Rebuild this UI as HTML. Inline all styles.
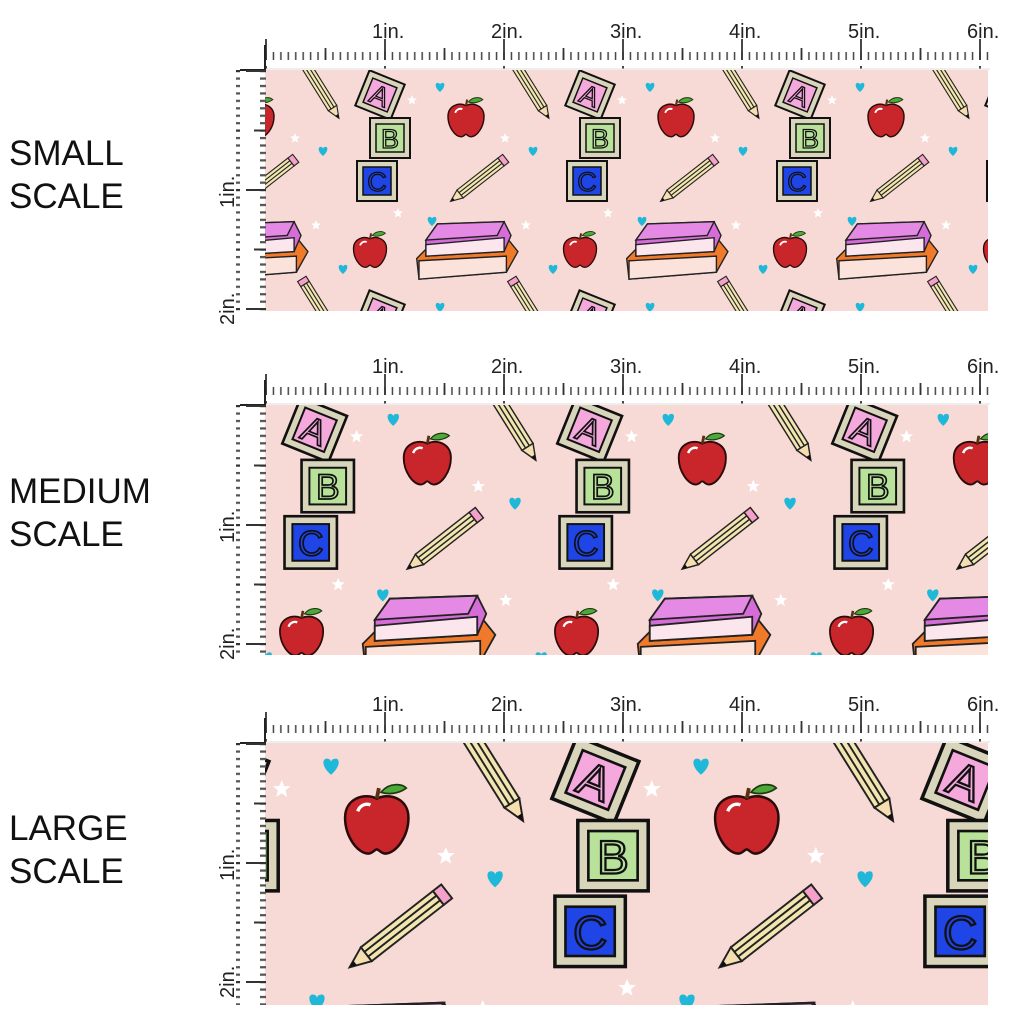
<!DOCTYPE html>
<html><head><meta charset="utf-8"><style>
html,body{margin:0;padding:0;background:#fff;width:1024px;height:1024px;overflow:hidden}
svg{display:block}
.lbl{font-family:"Liberation Sans",sans-serif;font-size:35px;fill:#111}
.rl{font-family:"Liberation Sans",sans-serif;font-size:20px;fill:#222}
.bl{font-family:"Liberation Sans",sans-serif;font-size:27px;fill:none;stroke:#111;stroke-width:1.3}
</style></head><body>
<svg width="1024" height="1024" viewBox="0 0 1024 1024" xmlns="http://www.w3.org/2000/svg">
<defs>
<pattern id="hsmall" x="265" y="0" width="7.4375" height="30" patternUnits="userSpaceOnUse">
<line x1="1" y1="30" x2="1" y2="22" stroke="#444" stroke-width="1.5"/></pattern>
<pattern id="hbig" x="265" y="0" width="119" height="30" patternUnits="userSpaceOnUse">
<g stroke="#333" stroke-width="1.8"><line x1="1" y1="30" x2="1" y2="6"/><line x1="60.5" y1="30" x2="60.5" y2="18"/></g></pattern>
<pattern id="vsmall" x="0" y="70" width="30" height="7.4375" patternUnits="userSpaceOnUse">
<line x1="30" y1="1" x2="20" y2="1" stroke="#555" stroke-width="2.5"/></pattern>
<pattern id="vbig" x="0" y="70" width="30" height="119" patternUnits="userSpaceOnUse">
<g stroke="#333" stroke-width="2"><line x1="30" y1="1" x2="6" y2="1"/><line x1="30" y1="60.5" x2="14" y2="60.5"/></g></pattern>
<g id="heart"><path d="M0 4 C-6 -1 -5 -6 -1.5 -5 C0 -4.5 0 -3.5 0 -3 C0 -3.5 0.5 -5 2 -5 C5 -6 6 -1 0 4Z" fill="#20b8d8"/></g>
<g id="star"><polygon points="0,-5 1.4,-1.6 5,-1.5 2.2,0.9 3.1,4.6 0,2.6 -3.1,4.6 -2.2,0.9 -5,-1.5 -1.4,-1.6" fill="#fff"/></g>
<g id="apple"><path d="M0 -12 C-6 -15 -15 -12 -15 -3 C-15 6 -9 14 -4 14 C-2 14 -1 12 0 12 C1 12 2 14 4 14 C9 14 15 6 15 -3 C15 -12 6 -15 0 -12Z" fill="#c8262b" stroke="#2a0a0a" stroke-width="1.2"/>
<path d="M0 -12 L1 -17" stroke="#5a3010" stroke-width="1.8"/><path d="M2 -15 C6 -20 12 -19 14 -17 C10 -14 5 -14 2 -15Z" fill="#4ea83a" stroke="#1a3a10" stroke-width="0.8"/>
<path d="M-9 -6 C-8 -9 -5 -10 -3 -9" stroke="#fff" stroke-width="1.6" fill="none"/></g>
<g id="pencil"><g stroke="#222" stroke-width="1.1">
<rect x="0" y="-5" width="52" height="10" fill="#f2e5b0"/><line x1="0" y1="-1.7" x2="52" y2="-1.7"/><line x1="0" y1="1.7" x2="52" y2="1.7"/>
<rect x="-6" y="-5" width="6" height="10" fill="#f5a0c8"/>
<polygon points="52,-5 64,0 52,5" fill="#f5deb0"/></g><polygon points="60,-1.7 64,0 60,1.7" fill="#111"/></g>
<g id="tile">
<g transform="translate(115,25) rotate(22)"><rect x="-19" y="-19" width="38" height="38" fill="#d9d5bb" stroke="#111" stroke-width="2"/><rect x="-13" y="-13" width="26" height="26" fill="#f4a8dc" stroke="#111" stroke-width="1.5"/><text class="bl" x="0" y="10" text-anchor="middle">A</text></g>
<g transform="translate(125,68)"><rect x="-20" y="-20" width="40" height="40" fill="#d9d5bb" stroke="#111" stroke-width="2"/><rect x="-14" y="-14" width="28" height="28" fill="#b8e29a" stroke="#111" stroke-width="1.5"/><text class="bl" x="0" y="10" text-anchor="middle">B</text></g>
<g transform="translate(112,111)"><rect x="-20" y="-20" width="40" height="40" fill="#d9d5bb" stroke="#111" stroke-width="2"/><rect x="-14" y="-14" width="28" height="28" fill="#1f45e6" stroke="#111" stroke-width="1.5"/><text class="bl" x="0" y="10" text-anchor="middle">C</text></g>
<use href="#apple" transform="translate(201,50) scale(1.2)"/>
<use href="#apple" transform="translate(105,182) scale(1.1)"/>
<use href="#pencil" transform="translate(40,-6) rotate(58)"/>
<use href="#pencil" transform="translate(236,92) rotate(142)"/>
<g stroke="#222" stroke-width="1.2" transform="translate(200,185) scale(1.15) translate(-200,-185)">
<polygon points="158,188 168,178 238,172 246,182 236,200 160,206" fill="#f07a2a"/>
<polygon points="160,190 236,186 236,200 160,206" fill="#fbe3dc"/>
<polygon points="166,172 176,158 234,156 240,168 234,182 166,186" fill="#d66cd8"/>
<polygon points="166,176 234,170 234,182 166,186" fill="#fbe6ee"/>
<polygon points="166,172 176,158 234,156 228,168" fill="#e58ae4"/>
</g>
<use href="#heart" transform="translate(175,18)"/><use href="#heart" transform="translate(58,82)"/>
<use href="#heart" transform="translate(167,152)"/><use href="#heart" transform="translate(78,200)"/>
<use href="#star" transform="translate(30,68)"/><use href="#star" transform="translate(147,30)"/>
<use href="#star" transform="translate(133,143)"/><use href="#star" transform="translate(51,155)"/>
</g>
<g id="ruler">
<rect x="265" y="39" width="725" height="30" fill="url(#hsmall)"/>
<rect x="265" y="39" width="725" height="30" fill="url(#hbig)"/>
<line x1="265" y1="69" x2="990" y2="69" stroke="#ddd" stroke-width="1"/>
<line x1="240" y1="70" x2="265" y2="70" stroke="#222" stroke-width="2"/><line x1="265" y1="45" x2="265" y2="70" stroke="#222" stroke-width="2"/>
<text class="rl" x="372" y="38">1in.</text><text class="rl" x="491" y="38">2in.</text><text class="rl" x="610" y="38">3in.</text><text class="rl" x="729" y="38">4in.</text><text class="rl" x="848" y="38">5in.</text><text class="rl" x="967" y="38">6in.</text>
<text class="rl" transform="translate(234,208) rotate(-90)">1in.</text><text class="rl" transform="translate(234,325) rotate(-90)">2in.</text>
</g>
<clipPath id="c1"><rect x="265" y="70" width="723" height="241"/></clipPath>
<clipPath id="c2"><rect x="265" y="405" width="723" height="250"/></clipPath>
<clipPath id="c3"><rect x="265" y="743" width="723" height="262"/></clipPath>
</defs>

<text class="lbl" x="9" y="165">SMALL</text><text class="lbl" x="9" y="208">SCALE</text>
<text class="lbl" x="9" y="503">MEDIUM</text><text class="lbl" x="9" y="546">SCALE</text>
<text class="lbl" x="9" y="840">LARGE</text><text class="lbl" x="9" y="883">SCALE</text>

<g clip-path="url(#c1)"><rect x="265" y="70" width="723" height="241" fill="#f7d9d6"/>
<use href="#tile" transform="translate(55,70)"/><use href="#tile" transform="translate(265,70)"/><use href="#tile" transform="translate(475,70)"/><use href="#tile" transform="translate(685,70)"/><use href="#tile" transform="translate(895,70)"/>
<use href="#tile" transform="translate(55,290)"/><use href="#tile" transform="translate(265,290)"/><use href="#tile" transform="translate(475,290)"/><use href="#tile" transform="translate(685,290)"/><use href="#tile" transform="translate(895,290)"/>
<use href="#tile" transform="translate(55,-150)"/><use href="#tile" transform="translate(265,-150)"/><use href="#tile" transform="translate(475,-150)"/><use href="#tile" transform="translate(685,-150)"/><use href="#tile" transform="translate(895,-150)"/>
</g>
<g clip-path="url(#c2)"><rect x="265" y="405" width="723" height="250" fill="#f7d9d6"/>
<use href="#tile" transform="translate(-111,397) scale(1.31)"/><use href="#tile" transform="translate(164,397) scale(1.31)"/><use href="#tile" transform="translate(439,397) scale(1.31)"/><use href="#tile" transform="translate(714,397) scale(1.31)"/>
<use href="#tile" transform="translate(-111,685) scale(1.31)"/><use href="#tile" transform="translate(164,685) scale(1.31)"/><use href="#tile" transform="translate(439,685) scale(1.31)"/><use href="#tile" transform="translate(714,685) scale(1.31)"/>
<use href="#tile" transform="translate(-111,109) scale(1.31)"/><use href="#tile" transform="translate(164,109) scale(1.31)"/><use href="#tile" transform="translate(439,109) scale(1.31)"/><use href="#tile" transform="translate(714,109) scale(1.31)"/>
</g>
<g clip-path="url(#c3)"><rect x="265" y="743" width="723" height="262" fill="#f7d9d6"/>
<use href="#tile" transform="translate(-347,736) scale(1.76)"/><use href="#tile" transform="translate(23,736) scale(1.76)"/><use href="#tile" transform="translate(393,736) scale(1.76)"/><use href="#tile" transform="translate(763,736) scale(1.76)"/>
<use href="#tile" transform="translate(-347,349) scale(1.76)"/><use href="#tile" transform="translate(23,349) scale(1.76)"/><use href="#tile" transform="translate(393,349) scale(1.76)"/><use href="#tile" transform="translate(763,349) scale(1.76)"/>
</g>

<use href="#ruler"/>
<rect x="236" y="70" width="30" height="241" fill="url(#vsmall)"/><rect x="236" y="70" width="30" height="241" fill="url(#vbig)"/>
<use href="#ruler" transform="translate(0,335)"/>
<g transform="translate(0,335)"><rect x="236" y="70" width="30" height="250" fill="url(#vsmall)"/><rect x="236" y="70" width="30" height="250" fill="url(#vbig)"/></g>
<use href="#ruler" transform="translate(0,673)"/>
<g transform="translate(0,673)"><rect x="236" y="70" width="30" height="262" fill="url(#vsmall)"/><rect x="236" y="70" width="30" height="262" fill="url(#vbig)"/></g>
</svg>
</body></html>
